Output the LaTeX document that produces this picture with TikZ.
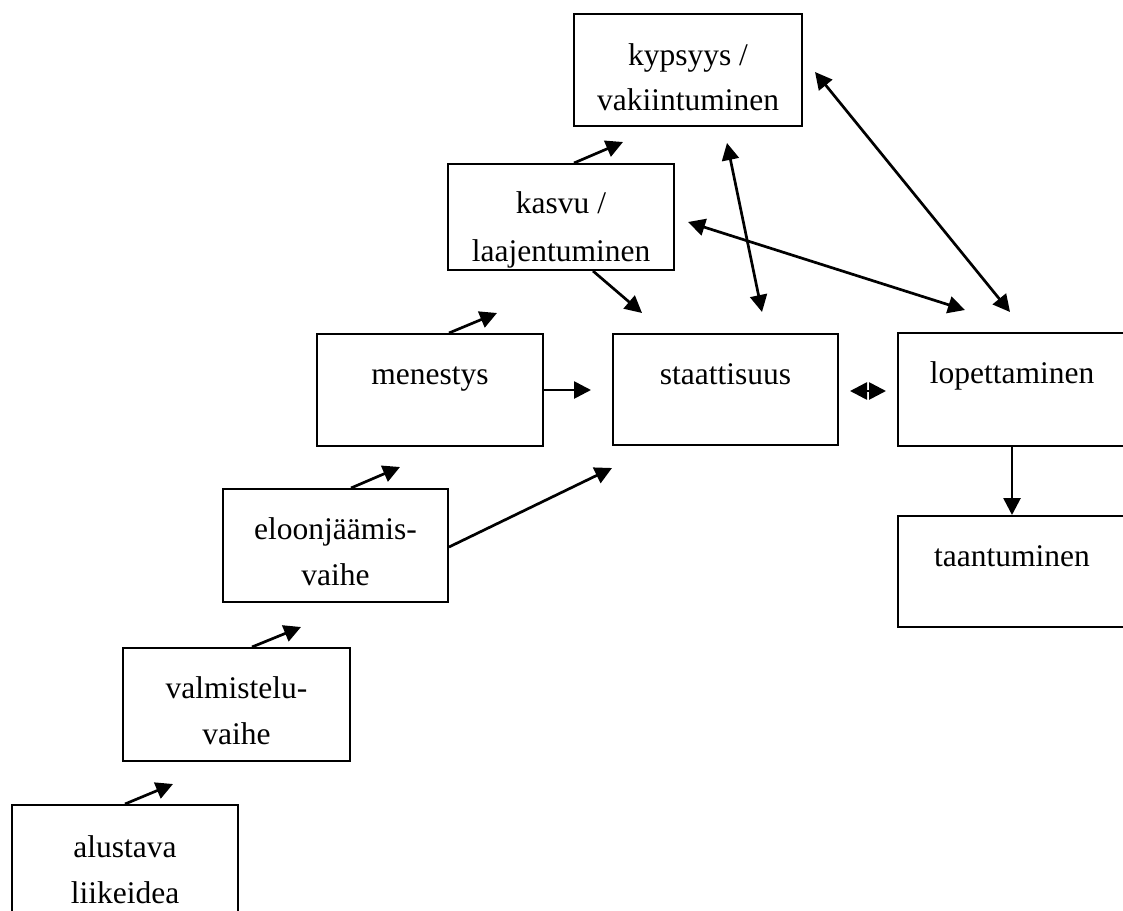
\documentclass[tikz,border=0pt]{standalone}
\usepackage{fontspec}
\setmainfont{Liberation Serif}
\usetikzlibrary{arrows.meta,calc}
\begin{document}
\begin{tikzpicture}[x=0.5pt,y=-0.5pt,
  box/.style={draw,line width=1pt,rectangle,inner sep=0pt,anchor=north west},
  txt/.style={anchor=base,inner sep=0pt,font=\fontsize{15.75}{23}\selectfont},
  arr/.style={line width=1.35pt,-{Triangle[length=8.5pt,width=8.5pt]}},
  darr/.style={line width=1.35pt,{Triangle[length=8.5pt,width=8.5pt]}-{Triangle[length=8.5pt,width=8.5pt]}}]
\path[use as bounding box,clip] (0,0) rectangle (1123,910);

% boxes
\node[box,minimum width=113pt,minimum height=65pt] (alustava) at (11,804) {};
\node[box,minimum width=113.5pt,minimum height=56.5pt] (valm) at (122,647) {};
\node[box,minimum width=112.5pt,minimum height=56.5pt] (eloon) at (222,488) {};
\node[box,minimum width=113pt,minimum height=56pt] (menestys) at (316,333) {};
\node[box,minimum width=113pt,minimum height=53pt] (kasvu) at (447,163) {};
\node[box,minimum width=114pt,minimum height=56pt] (kyps) at (573,13) {};
\node[box,minimum width=112.5pt,minimum height=55.5pt] (staat) at (612,333) {};
\node[box,minimum width=114pt,minimum height=56.5pt] (lopet) at (897,332) {};
\node[box,minimum width=114pt,minimum height=55.5pt] (taant) at (897,515) {};

% texts
\node[txt] (t1a) at ($(alustava.north)+(0,53)$) {alustava};
\node[txt] (t1b) at ($(alustava.north)+(0,99)$) {liikeidea};
\node[txt] (t2a) at ($(valm.north)+(0,51)$) {valmistelu-};
\node[txt] (t2b) at ($(valm.north)+(0,97)$) {vaihe};
\node[txt] (t3a) at ($(eloon.north)+(0,51)$) {eloonjäämis-};
\node[txt] (t3b) at ($(eloon.north)+(0,97)$) {vaihe};
\node[txt] (t4) at ($(menestys.north)+(0,51)$) {menestys};
\begin{scope}
\clip (kasvu.north west) rectangle (kasvu.south east);
\node[txt] (t5a) at ($(kasvu.north)+(0,50)$) {kasvu /};
\node[txt] (t5b) at ($(kasvu.north)+(0,98)$) {laajentuminen};
\end{scope}
\node[txt] (t6a) at ($(kyps.north)+(0,52)$) {kypsyys /};
\node[txt] (t6b) at ($(kyps.north)+(0,97)$) {vakiintuminen};
\node[txt] (t7) at ($(staat.north)+(0,51)$) {staattisuus};
\node[txt] (t8) at ($(lopet.north)+(0,51)$) {lopettaminen};
\node[txt] (t9) at ($(taant.north)+(0,51)$) {taantuminen};

% free arrow ends
\coordinate (e1) at (173,784);
\coordinate (e2) at (301,627);
\coordinate (e3) at (400,467);
\coordinate (e4) at (497,313);
\coordinate (e5) at (623,142);
\coordinate (e6) at (642,313);
\coordinate (e7) at (612,468);
\coordinate (e8) at (591,390);
\coordinate (d1a) at (727,143);
\coordinate (d1b) at (762,312);
\coordinate (d2a) at (815,72);
\coordinate (d2b) at (1010,312);
\coordinate (d3a) at (688,222);
\coordinate (d3b) at (965,310);
\coordinate (d4a) at (850,391);
\coordinate (d4b) at (886,391);

% arrows
\draw[arr] (alustava.north) -- (e1);
\draw[arr] ([xshift=7.75pt]valm.north) -- (e2);
\draw[arr] ([xshift=7.75pt]eloon.north) -- (e3);
\draw[arr] ([xshift=9.5pt]menestys.north) -- (e4);
\draw[arr] ([xshift=6.5pt]kasvu.north) -- (e5);
\draw[arr] ([xshift=16pt]kasvu.south) -- (e6);
\draw[arr] ([yshift=-0.75pt]eloon.east) -- (e7);
\draw[arr] (menestys.east) -- (e8);
\draw[darr] (d1a) -- (d1b);
\draw[darr] (d2a) -- (d2b);
\draw[darr] (d3a) -- (d3b);
\draw[darr] (d4a) -- (d4b);
\draw[arr] (lopet.south) -- (taant.north);
\end{tikzpicture}
\end{document}
